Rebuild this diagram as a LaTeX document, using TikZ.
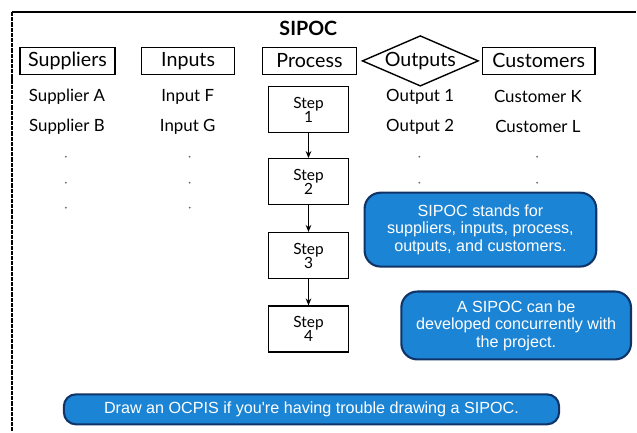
\documentclass[tikz,border=0pt]{standalone}
\usepackage{fontspec}
\setmainfont{Lato}
\newfontfamily\calloutfont{Liberation Sans}
\usetikzlibrary{shapes.geometric,arrows.meta}
\definecolor{calloutblue}{RGB}{28,132,212}
\definecolor{calloutedge}{RGB}{16,52,104}

\begin{document}
\begin{tikzpicture}[
  headbox/.style={draw, line width=1pt, minimum height=0.675cm, inner sep=1pt, font=\fontsize{14pt}{17pt}\selectfont},
  itemtext/.style={font=\fontsize{12pt}{14pt}\selectfont},
  stepbox/.style={draw, line width=0.9pt, minimum width=2cm, minimum height=1.15cm, align=center, font=\fontsize{11pt}{10pt}\selectfont},
  callout/.style={draw=calloutedge, line width=1.5pt, fill=calloutblue, rounded corners=0.4cm, text=white, align=center, font=\calloutfont\fontsize{11.5pt}{12.5pt}\selectfont},
  flow/.style={-{Stealth[length=5pt,width=4pt]}, line width=0.9pt},
  gap/.style={fill=black!60}
]
\fill [color=white,opacity=0] (0, 0) rectangle (15.925, -10.8);

\draw [line width=1.5pt] (0.3, -0.3) -- (15.925, -0.3);
\draw [line width=2pt, dash pattern=on 3pt off 0.7pt] (0.3, -0.3) -- (0.3, -10.8);

\node (title) at (7.72, -0.7) [font=\bfseries\fontsize{14pt}{16pt}\selectfont] {SIPOC};

\node (suppliers) at (1.69, -1.525) [headbox, minimum width=2.375cm] {Suppliers};
\node (inputs) at (4.71, -1.525) [headbox, minimum width=2.325cm] {Inputs};
\node (process) at (7.75, -1.525) [headbox, minimum width=2.35cm] {Process};
\node (outputs) at (10.525, -1.525) [draw, diamond, aspect=2.3, inner sep=0.5pt, line width=1pt, font=\fontsize{14pt}{17pt}\selectfont] {Outputs};
\node (customers) at (13.49, -1.525) [headbox, minimum width=2.825cm] {Customers};

\node (suppA) at (1.675, -2.425) [itemtext] {Supplier A};
\node (suppB) at (1.675, -3.175) [itemtext] {Supplier B};
\node (inF) at (4.7, -2.425) [itemtext] {Input F};
\node (inG) at (4.7, -3.175) [itemtext] {Input G};
\node (out1) at (10.52, -2.425) [itemtext] {Output 1};
\node (out2) at (10.52, -3.175) [itemtext] {Output 2};
\node (custK) at (13.47, -2.425) [itemtext] {Customer K};
\node (custL) at (13.47, -3.175) [itemtext] {Customer L};

\foreach \x in {1.65, 4.75, 10.5, 13.45}
  \foreach \y in {-3.925, -4.575, -5.2}
    \fill [gap] (\x, \y) circle (0.025);

\node (step1) at (7.725, -2.75) [stepbox] {Step\\1};
\node (step2) at (7.725, -4.55) [stepbox] {Step\\2};
\node (step3) at (7.725, -6.4) [stepbox] {Step\\3};
\node (step4) at (7.725, -8.24) [stepbox] {Step\\4};
\draw [flow] (step1) -- (step2);
\draw [flow] (step2) -- (step3);
\draw [flow] (step3) -- (step4);

\node (note1) at (12.03, -5.75) [callout, minimum width=5.8cm, minimum height=1.85cm] {SIPOC stands for\\suppliers, inputs, process,\\outputs, and customers.};
\node (note2) at (12.925, -8.15) [callout, minimum width=5.75cm, minimum height=1.7cm] {A SIPOC can be\\developed concurrently with\\the project.};
\node (note3) at (7.8, -10.25) [callout, minimum width=12.4cm, minimum height=0.75cm, rounded corners=0.3cm] {Draw an OCPIS if you're having trouble drawing a SIPOC.};
\end{tikzpicture}
\end{document}
